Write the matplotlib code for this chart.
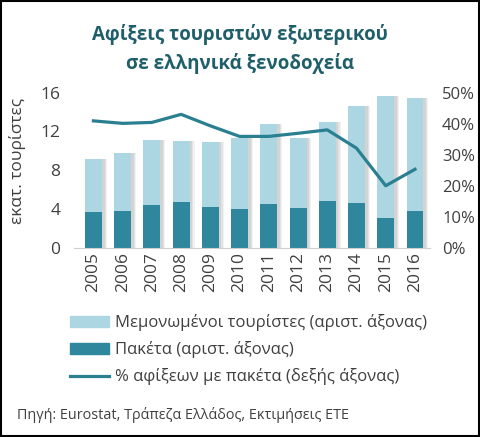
import numpy as np
import matplotlib
matplotlib.use("Agg")
from matplotlib import pyplot as plt
from matplotlib.patches import Rectangle, Patch
from matplotlib.lines import Line2D

plt.rcParams['font.family'] = ['Open Sans', 'DejaVu Sans']

years = ['2005', '2006', '2007', '2008', '2009', '2010',
         '2011', '2012', '2013', '2014', '2015', '2016']
# million arrivals
packages = [3.72, 3.82, 4.44, 4.72, 4.24, 4.03, 4.54, 4.13, 4.82, 4.65, 3.10, 3.82]
independent = [5.43, 5.92, 6.71, 6.32, 6.70, 7.32, 8.23, 7.16, 8.12, 10.01, 12.52, 11.60]
# share of arrivals with packages (%)
pct_packages = [40.9, 40.1, 40.4, 43.0, 39.3, 35.9, 35.9, 36.9, 38.0, 32.1, 20.0, 25.3]

light = '#acd6e2'
dark = '#2e879c'
line_col = '#2a7f90'
title_col = '#1f5f6a'
text_col = '#404040'

fig = plt.figure(figsize=(4.8, 4.37), dpi=100)
ax1 = fig.add_axes([0.155, 0.433, 0.74, 0.355])

x = np.arange(len(years))
w = 0.58
total = np.array(packages) + np.array(independent)

# soft shadow to the right of the bars
for off, a in [(0.17, 0.10), (0.13, 0.13), (0.09, 0.16)]:
    ax1.bar(x + off, total, w, color='#808080', alpha=a, zorder=1, linewidth=0)

ax1.bar(x, packages, w, color=dark, zorder=2, linewidth=0)
ax1.bar(x, independent, w, bottom=packages, color=light, zorder=2, linewidth=0)

ax1.set_ylim(0, 16)
ax1.set_yticks([0, 4, 8, 12, 16])
ax1.set_xlim(-0.65, 11.5)
ax1.set_xticks(x)
ax1.set_xticklabels(years, rotation=90)
ax1.tick_params(axis='y', length=0, labelsize=12.5, colors=text_col, pad=10)
ax1.tick_params(axis='x', length=0, labelsize=12.5, colors=text_col, pad=3)
for s in ['top', 'right', 'left']:
    ax1.spines[s].set_visible(False)
ax1.spines['bottom'].set_color('#d0d0d0')
ax1.set_ylabel('εκατ. τουρίστες', fontsize=12.5, color=text_col)
ax1.yaxis.set_label_coords(-0.135, 0.56)

ax2 = ax1.twinx()
ax2.plot(x, pct_packages, color=line_col, linewidth=2.3, zorder=3)
ax2.set_ylim(0, 50)
ax2.set_yticks([0, 10, 20, 30, 40, 50])
ax2.set_yticklabels(['%d%%' % v for v in [0, 10, 20, 30, 40, 50]])
ax2.tick_params(length=0, labelsize=12, colors=text_col, pad=9)
for s in ['top', 'right', 'left', 'bottom']:
    ax2.spines[s].set_visible(False)

fig.text(0.5, 0.888, 'Αφίξεις τουριστών εξωτερικού\nσε ελληνικά ξενοδοχεία',
         ha='center', va='center', fontsize=13.5, fontweight='bold',
         color=title_col, linespacing=1.5)

handles = [Patch(color=light), Patch(color=dark),
           Line2D([0], [0], color=line_col, linewidth=2.3)]
labels = ['Μεμονωμένοι τουρίστες (αριστ. άξονας)',
          'Πακέτα (αριστ. άξονας)',
          '% αφίξεων με πακέτα (δεξής άξονας)']
fig.legend(handles, labels, loc='upper left', bbox_to_anchor=(0.115, 0.315),
           frameon=False, fontsize=12, handlelength=2.35, handleheight=0.6,
           handletextpad=0.35, labelspacing=0.6, labelcolor=text_col)

fig.text(0.035, 0.05, 'Πηγή: Eurostat, Τράπεζα Ελλάδος, Εκτιμήσεις ΕΤΕ',
         fontsize=10.4, color=text_col, va='center')

fig.patches.append(Rectangle((0.002, 0.002), 0.996, 0.996, transform=fig.transFigure,
                             fill=False, edgecolor='black', linewidth=1.5))

fig.savefig('out.png', dpi=100)
